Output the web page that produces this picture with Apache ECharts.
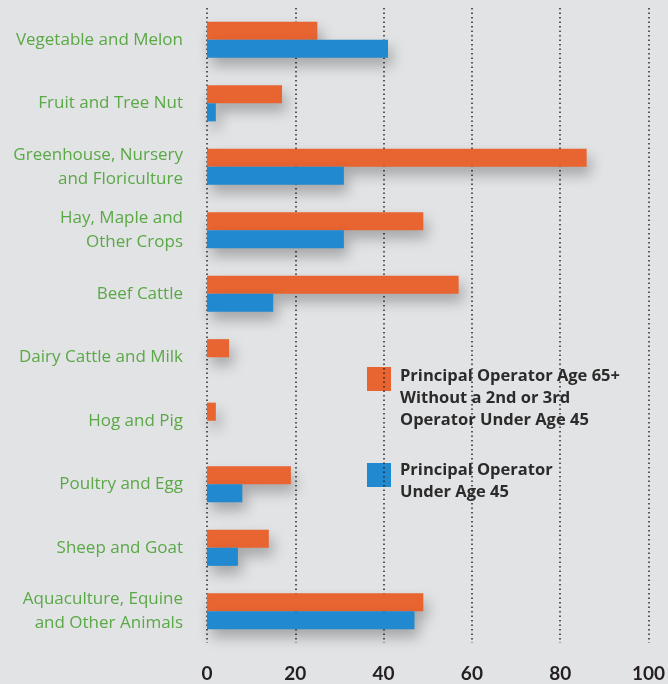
<!DOCTYPE html>
<html><head><meta charset="utf-8">
<script src="https://cdn.jsdelivr.net/npm/echarts@6/dist/echarts.min.js"></script>
<style>html,body{margin:0;padding:0;background:#e2e3e5}#c{width:668px;height:684px}</style>
</head><body><div id="c"></div>
<script>
const categories = [
  "Vegetable and Melon",
  "Fruit and Tree Nut",
  "Greenhouse, Nursery\nand Floriculture",
  "Hay, Maple and\nOther Crops",
  "Beef Cattle",
  "Dairy Cattle and Milk",
  "Hog and Pig",
  "Poultry and Egg",
  "Sheep and Goat",
  "Aquaculture, Equine\nand Other Animals"
];
const seriesNames = [
  "Principal Operator Age 65+\nWithout a 2nd or 3rd\nOperator Under Age 45",
  "Principal Operator\nUnder Age 45"
];
const olderValues = [25, 17, 86, 49, 57, 5, 2, 19, 14, 49];
const youngValues = [41, 2, 31, 31, 15, 0, 0, 8, 7, 47];
const xTicks = [0, 20, 40, 60, 80, 100];

const colors = ["#e86431", "#2089cf"];
const shadow = {shadowBlur: 14, shadowColor: "rgba(0,0,0,0.28)", shadowOffsetX: 4, shadowOffsetY: 8};

const chart = echarts.init(document.getElementById("c"), null, {renderer: "canvas"});
chart.setOption({
  backgroundColor: "#e2e3e5",
  animation: false,
  grid: {left: 207, right: 18, top: 8, bottom: 41, containLabel: false},
  xAxis: {
    type: "value", min: xTicks[0], max: xTicks[xTicks.length - 1], interval: 20,
    axisLine: {show: false}, axisTick: {show: false},
    splitLine: {show: true, showMinLine: true, showMaxLine: true, lineStyle: {color: "#2a2a2a", type: [1.5, 3], width: 1.5}},
    axisLabel: {color: "#231f20", fontSize: 19, fontWeight: "bold", fontFamily: "Lato", margin: 21}
  },
  yAxis: {
    type: "category", data: categories, inverse: true,
    axisLine: {show: false}, axisTick: {show: false}, splitLine: {show: false},
    axisLabel: {color: "#5aa846", fontSize: 17, fontFamily: "Open Sans", lineHeight: 24, margin: 24, align: "right", padding: [5, 0, 0, 0]}
  },
  series: [
    {name: seriesNames[0], type: "bar", data: olderValues, barGap: "0%", barCategoryGap: "43%",
     itemStyle: Object.assign({color: colors[0]}, shadow)},
    {name: seriesNames[1], type: "bar", data: youngValues, barGap: "0%", barCategoryGap: "43%",
     itemStyle: Object.assign({color: colors[1]}, shadow)}
  ],
  graphic: [
    {type: "rect", left: 367, top: 367, shape: {width: 24, height: 24}, style: {fill: colors[0]}},
    {type: "text", left: 400, top: 365, style: {text: seriesNames[0], fill: "#2b2b2b", font: "bold 16.5px 'Open Sans'", lineHeight: 22}},
    {type: "rect", left: 367, top: 463, shape: {width: 24, height: 24}, style: {fill: colors[1]}},
    {type: "text", left: 400, top: 459, style: {text: seriesNames[1], fill: "#2b2b2b", font: "bold 16.5px 'Open Sans'", lineHeight: 22}}
  ]
});
</script></body></html>
